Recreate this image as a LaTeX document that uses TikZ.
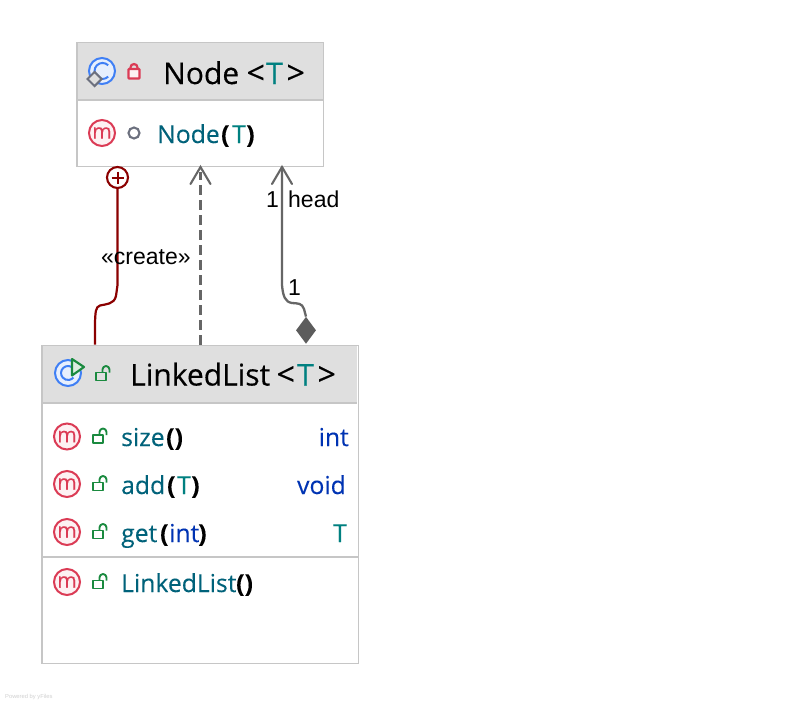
\documentclass[tikz,border=0pt]{standalone}
\usepackage{fontspec}
\setmainfont{Open Sans}
\newfontfamily\arialf{Liberation Sans}
\newfontfamily\titlef[FakeBold=0.35]{Open Sans}
\newfontfamily\membf[FakeBold=0.2]{Open Sans}
\usetikzlibrary{arrows.meta,shapes.geometric}
\definecolor{hdr}{HTML}{DFDFDF}
\definecolor{bord}{HTML}{C6C6C6}
\definecolor{tealA}{HTML}{00627A}
\definecolor{tealT}{HTML}{008080}
\definecolor{kw}{HTML}{0033B3}
\definecolor{mred}{HTML}{DB3B55}
\definecolor{mfill}{HTML}{FDF1F3}
\definecolor{lgreen}{HTML}{1A8A3F}
\definecolor{blueI}{HTML}{3F7FF5}
\definecolor{blueF}{HTML}{E7EFFD}
\definecolor{grayI}{HTML}{6C707E}
\definecolor{conn}{HTML}{666666}
\definecolor{dred}{HTML}{8B0000}
\tikzset{
  x=1pt,y=-1pt,
  hdrbox/.style={fill=hdr,inner sep=0,rectangle,anchor=north west},
  sepline/.style={draw=bord,line width=1.8pt},
  frameline/.style={draw=bord,line width=1.2pt},
  tt/.style={inner sep=0,anchor=base west,font=\titlef\fontsize{30}{36}\selectfont},
  ta/.style={inner sep=0,anchor=base west,font=\titlef\fontsize{32}{36}\selectfont},
  mm/.style={inner sep=0,anchor=base west,font=\membf\fontsize{24.7}{30}\selectfont},
  mr/.style={inner sep=0,anchor=base east,font=\membf\fontsize{24.7}{30}\selectfont},
  lab/.style={inner sep=0,anchor=base west,font=\arialf\fontsize{23}{27}\selectfont},
  micon/.style={circle,draw=mred,fill=mfill,line width=2pt,minimum size=26pt,inner sep=0,text=mred,font=\membf\fontsize{21}{21}\selectfont},
  lockg/.style={draw=lgreen,line width=1.9pt,line join=round},
}
\newcommand{\openlock}[2]{%
  \draw[lockg] (#1-5,#2-4) rectangle (#1+5,#2+4);
  \draw[lockg] (#1+1.5,#2-4) -- (#1+1.5,#2-7) arc[start angle=180,end angle=360,radius=3.5] -- (#1+8.5,#2-4);
}
\begin{document}
\begin{tikzpicture}
\useasboundingbox (0,0) rectangle (794,704);
\fill[white] (0,0) rectangle (794,704);

% Node class
\node[hdrbox,minimum width=246pt,minimum height=57pt] (nodehdr) at (77,42.5) {};
\node[inner sep=0,rectangle,anchor=north west,minimum width=246.5pt,minimum height=123.5pt] (nodebox) at (76.9,42.3) {};
\draw[sepline] (nodehdr.south west) -- (nodehdr.south east);
\draw[frameline] (nodebox.north west) rectangle (nodebox.south east);

% C icon with diamond
\node[circle,draw=blueI,fill=blueF,line width=2pt,minimum size=26pt,inner sep=0] (cicon) at (102,71) {};
\draw[blueI,line width=2pt] (108.2,65.3) arc[start angle=-45,end angle=-315,radius=8];
\node[diamond,aspect=1,draw=grayI,fill=hdr,line width=2pt,minimum size=15pt,inner sep=0] (dicon) at (94.5,79) {};
% closed lock
\draw[mred,line width=2.2pt,fill=mfill,rounded corners=0.8pt] (128.5,69) rectangle (139.5,78.5);
\draw[mred,line width=2.2pt] (130.5,69) -- (130.5,67.5) arc[start angle=180,end angle=360,radius=3.5] -- (137.5,69);

\node[tt] (tnode) at (163,84) {Node};
\node[ta] (tnodelt) at (246.4,84) {<};
\node[tt,text=tealT] (tnodeT) at (266,84) {T};
\node[ta] (tnodegt) at (286.4,84) {>};

\node[micon] (m0) at (102,133) {m};
\node[circle,draw=grayI,line width=2.1pt,minimum size=11pt,inner sep=0] (pk) at (134,133) {};
\node[mm,text=tealA] (n0) at (157,143) {Node};
\node[mm] (n0a) at (221,143) {\bfseries (};
\node[mm,text=tealT] (n0b) at (232,143) {T};
\node[mm] (n0c) at (246,143) {\bfseries )};

% LinkedList class
\node[hdrbox,minimum width=315pt,minimum height=57pt] (llhdr) at (42,345.5) {};
\node[inner sep=0,rectangle,anchor=north west,minimum width=315.9pt,minimum height=317.5pt] (llbox) at (41.9,345.2) {};
\draw[sepline] (llhdr.south west) -- (llhdr.south east);
\draw[frameline] (llbox.north west) rectangle (llbox.south east);
\coordinate (sepL) at (42,557);
\coordinate (sepR) at (357.5,557);
\draw[sepline] (sepL) -- (sepR);

\node[circle,draw=blueI,fill=blueF,line width=2pt,minimum size=26pt,inner sep=0] (licon) at (68,373) {};
\draw[blueI,line width=2pt] (73.4,368.5) arc[start angle=-40,end angle=-320,radius=7];
\draw[lgreen,line width=2.1pt,fill=white!85!lgreen,line join=round] (72,359) -- (84,367) -- (72,375.5) -- cycle;
\openlock{101}{376.5}

\node[tt] (tll) at (130,385.5) {LinkedList};
\node[ta] (tlllt) at (276.4,385.5) {<};
\node[tt,text=tealT] (tllT) at (297,385.5) {T};
\node[ta] (tllgt) at (317.4,385.5) {>};

\node[micon] (m1) at (67,436.5) {m};
\openlock{98}{439}
\node[mm,text=tealA] (s1) at (121,446) {size};
\node[mm] (s1a) at (166,446) {\bfseries ()};
\node[mr,text=kw] (s1r) at (349,446) {int};

\node[micon] (m2) at (67,484) {m};
\openlock{98}{486.5}
\node[mm,text=tealA] (s2) at (121,494) {add};
\node[mm] (s2a) at (167,494) {\bfseries (};
\node[mm,text=tealT] (s2b) at (177,494) {T};
\node[mm] (s2c) at (191,494) {\bfseries )};
\node[mr,text=kw] (s2r) at (346,494) {void};

\node[micon] (m3) at (67,532) {m};
\openlock{98}{534.5}
\node[mm,text=tealA] (s3) at (121,542) {get};
\node[mm] (s3a) at (160,542) {\bfseries (};
\node[mm,text=kw] (s3b) at (169,542) {int};
\node[mm] (s3c) at (198,542) {\bfseries )};
\node[mr,text=tealT] (s3r) at (347,542) {T};

\node[micon] (m4) at (67,582) {m};
\openlock{98}{584.5}
\node[mm,text=tealA] (s4) at (121,592) {LinkedList};
\node[mm] (s4a) at (236,592) {\bfseries ()};

% connectors
\coordinate (crS) at (95,344.5);
\node[circle,draw=dred,line width=2.1pt,fill=white,minimum size=21pt,inner sep=0] (crT) at (117.5,177.5) {};
\draw[dred,line width=2pt] (111.5,177.5) -- (123.5,177.5) (117.5,171.5) -- (117.5,183.5);
\draw[dred,line width=2.2pt] (crS) -- (95,322) .. controls (95.5,312) and (95.5,307) .. (100,305.5) .. controls (106,304) and (114,304.5) .. (116,296) -- (117.5,285) -- (crT.south);

\coordinate (dashT) at (200.5,167);
\coordinate (dashS) at (200.5,344.5);
\draw[conn,line width=2.6pt,dash pattern=on 10pt off 5pt] (dashS) -- (200.5,172);
\draw[conn,line width=2.1pt,line cap=round] (190.5,184) -- (dashT) -- (210.5,184);

\node[diamond,aspect=0.72,fill=conn!90!black,inner sep=0,minimum width=20pt,minimum height=27pt] (dia) at (306,330.3) {};
\coordinate (hdT) at (282,167);
\draw[conn,line width=2.3pt] (dia.north) -- (304,309) .. controls (302,303) and (298,303.5) .. (292,303) .. controls (285,302) and (283,296) .. (282,285) -- (hdT);
\draw[conn,line width=2.1pt,line cap=round] (272,184) -- (hdT) -- (292,184);

\node[lab] (l1) at (266,207) {1};
\node[lab] (lhead) at (288,207) {head};
\node[lab] (l2) at (288,295) {1};
\node[lab] (lcr) at (101,264) {«create»};

\node[inner sep=0,anchor=base west,text=black!18,font=\arialf\fontsize{5.8}{7}\selectfont] (pw) at (5,698) {Powered by yFiles};
\end{tikzpicture}
\end{document}
